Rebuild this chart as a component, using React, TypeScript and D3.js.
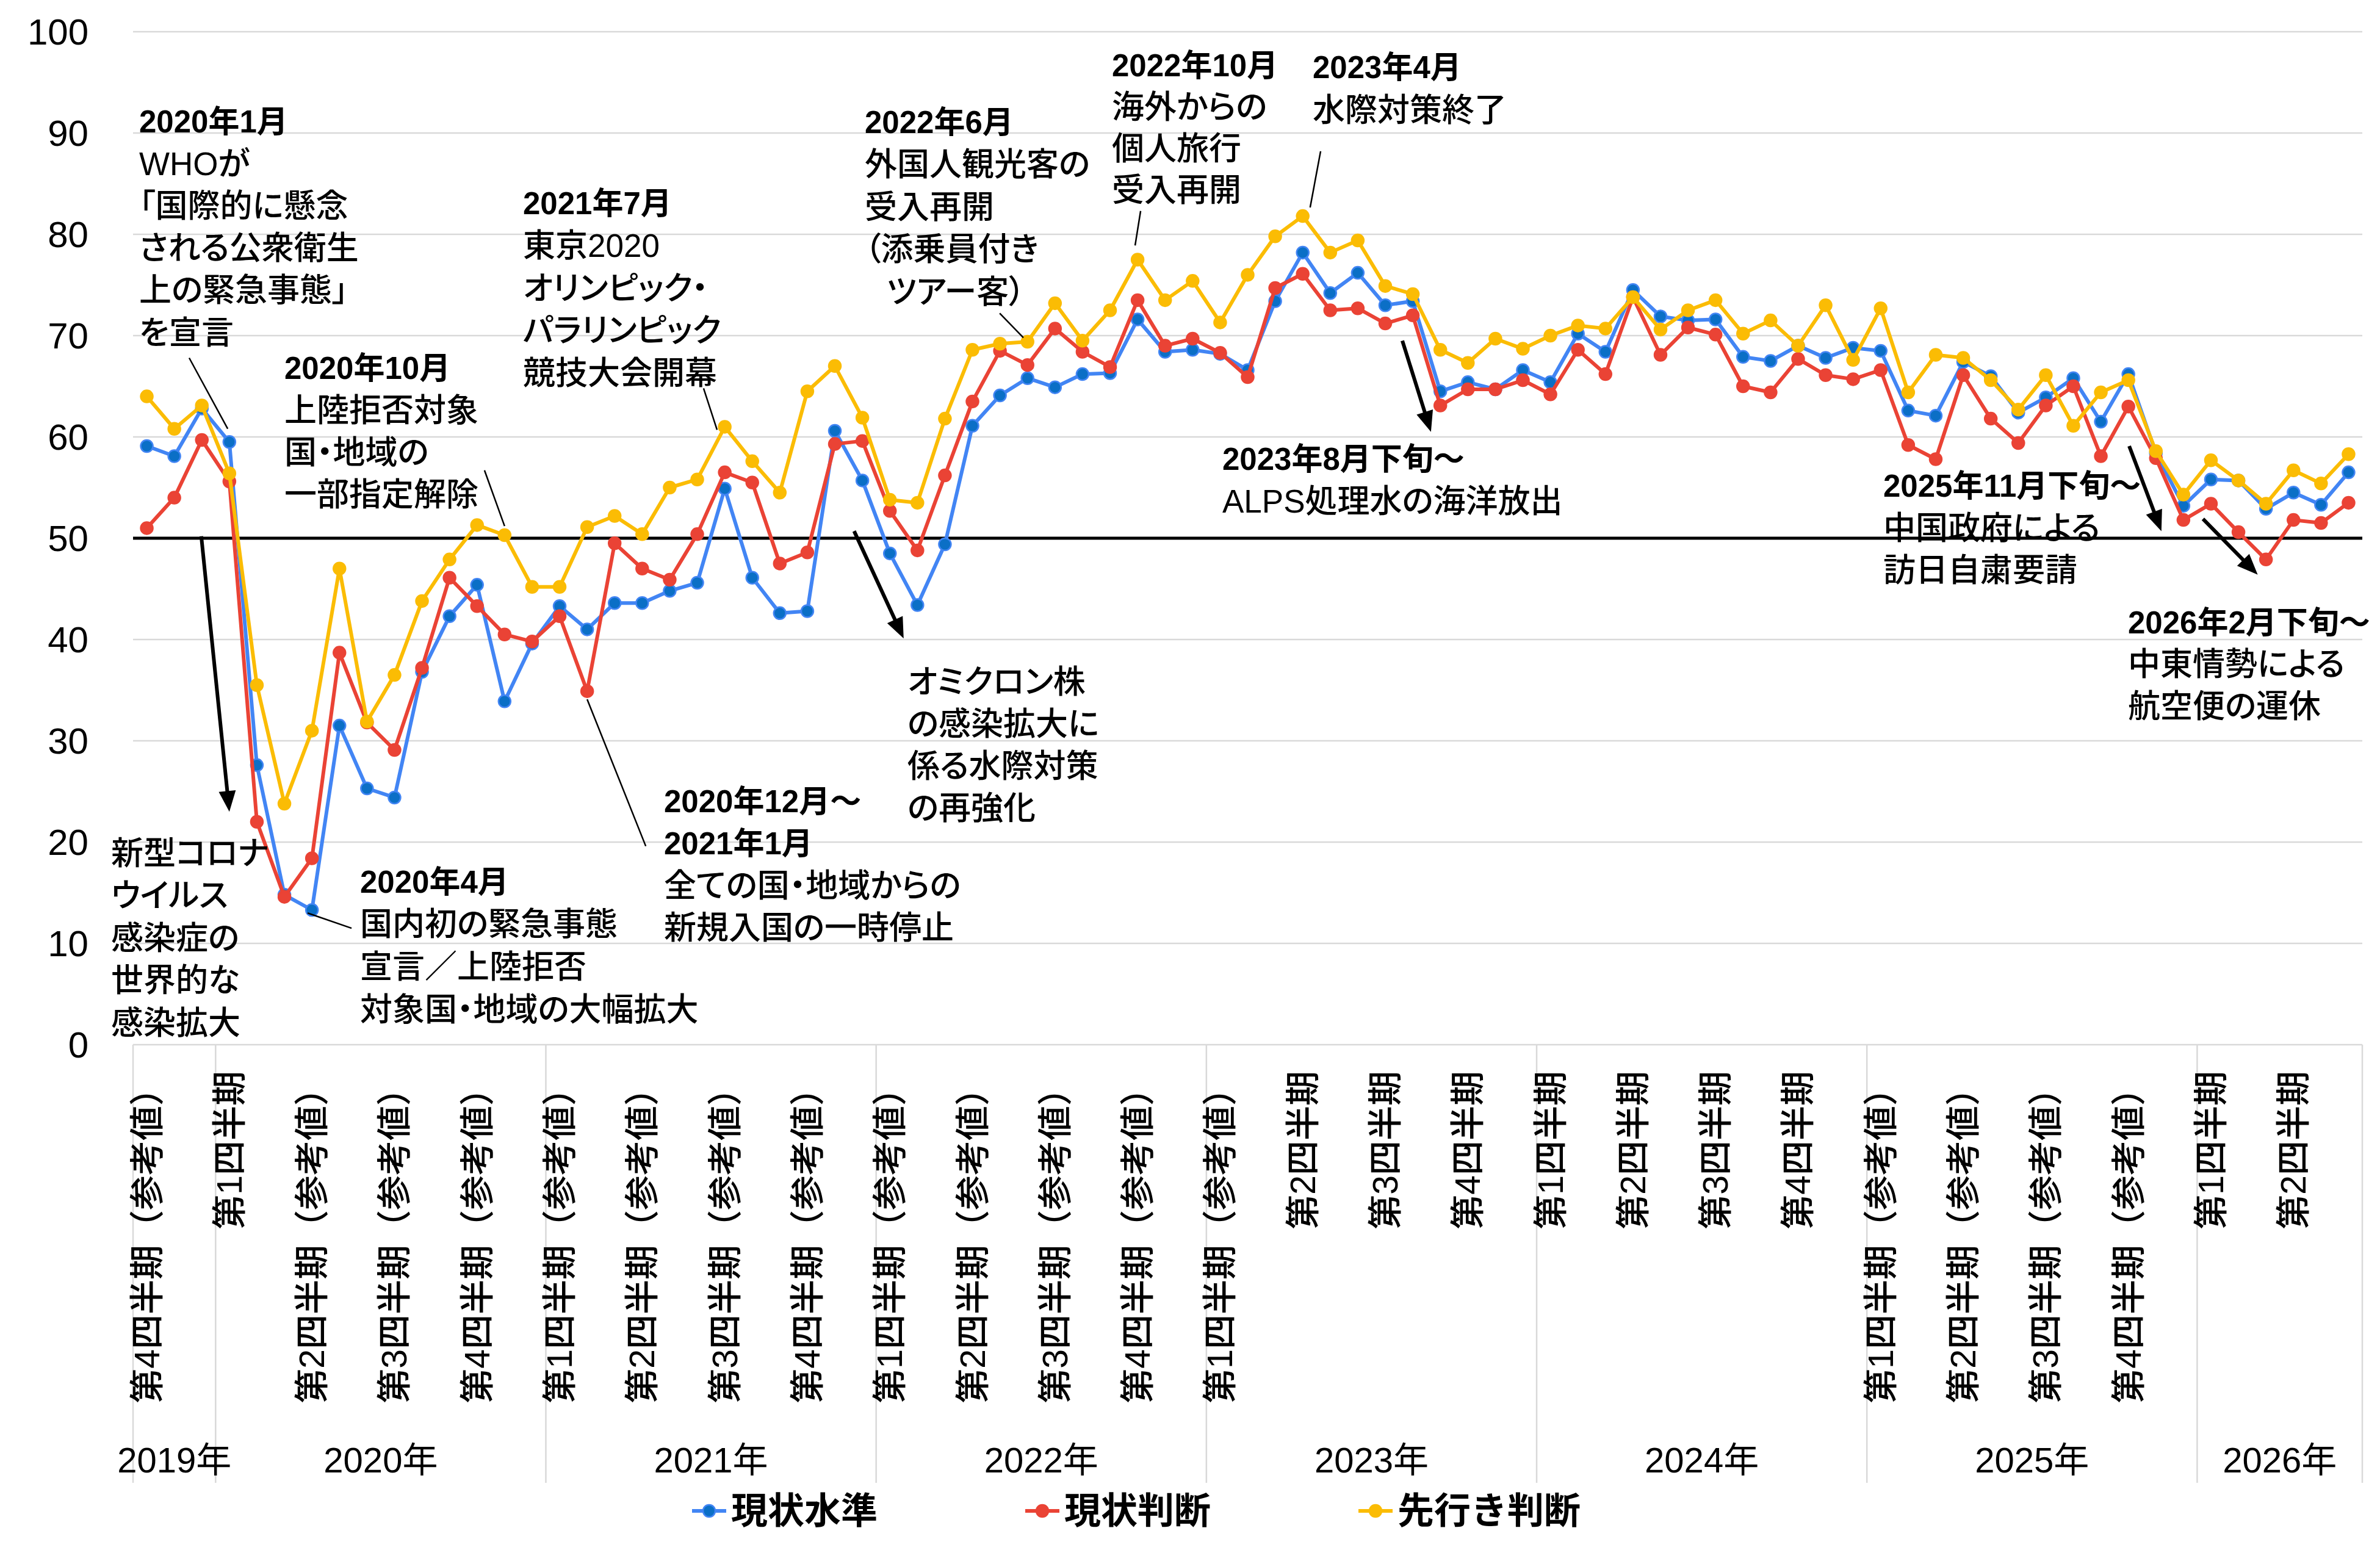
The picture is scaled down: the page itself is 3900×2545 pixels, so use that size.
import React from "react";
import * as d3 from "d3";

const W = 3900;
const H = 2545;
const FONT = "'Liberation Sans', 'Noto Sans CJK JP', sans-serif";

// ---- data ----
const seriesNames = ["現状水準", "現状判断", "先行き判断"];

const currentLevel = [
  59.1, 58.1, 62.8, 59.5, 27.6, 14.8, 13.3, 31.5, 25.3, 24.4,
  36.8, 42.3, 45.4, 33.9, 39.6, 43.3, 41.0, 43.6, 43.6, 44.8,
  45.6, 54.9, 46.1, 42.6, 42.8, 60.6, 55.7, 48.5, 43.4, 49.4,
  61.1, 64.1, 65.8, 64.9, 66.2, 66.3, 71.6, 68.4, 68.6, 68.2,
  66.6, 73.4, 78.2, 74.2, 76.2, 73.0, 73.4, 64.5, 65.4, 64.7,
  66.6, 65.4, 70.2, 68.4, 74.5, 71.9, 71.5, 71.6, 67.9, 67.5,
  69.0, 67.8, 68.8, 68.5, 62.6, 62.1, 67.4, 66.0, 62.4, 63.9,
  65.8, 61.5, 66.2, 58.4, 53.2, 55.8, 55.7, 52.9, 54.5, 53.3,
  56.5,
];

const currentJudgment = [
  51.0, 54.0, 59.7, 55.6, 22.0, 14.6, 18.4, 38.7, 31.8, 29.1,
  37.2, 46.1, 43.3, 40.5, 39.8, 42.3, 34.9, 49.5, 47.0, 45.9,
  50.4, 56.5, 55.5, 47.5, 48.6, 59.3, 59.6, 52.7, 48.8, 56.2,
  63.5, 68.5, 67.1, 70.7, 68.4, 66.9, 73.5, 69.0, 69.7, 68.3,
  65.9, 74.7, 76.1, 72.5, 72.7, 71.2, 72.0, 63.1, 64.7, 64.7,
  65.6, 64.2, 68.6, 66.2, 73.8, 68.1, 70.8, 70.1, 65.0, 64.4,
  67.7, 66.1, 65.7, 66.6, 59.2, 57.8, 66.1, 61.8, 59.4, 63.1,
  65.0, 58.1, 63.0, 57.9, 51.8, 53.4, 50.6, 47.9, 51.8, 51.5,
  53.5,
];

const outlook = [
  64.0, 60.8, 63.1, 56.4, 35.5, 23.8, 31.0, 47.0, 31.9, 36.5,
  43.8, 47.9, 51.3, 50.3, 45.2, 45.2, 51.1, 52.2, 50.4, 55.0,
  55.8, 61.0, 57.6, 54.5, 64.5, 67.0, 61.9, 53.8, 53.5, 61.8,
  68.6, 69.2, 69.4, 73.2, 69.5, 72.5, 77.5, 73.5, 75.4, 71.3,
  76.0, 79.8, 81.8, 78.2, 79.4, 74.9, 74.1, 68.6, 67.3, 69.7,
  68.7, 70.0, 71.0, 70.7, 73.8, 70.6, 72.5, 73.5, 70.2, 71.5,
  69.0, 73.0, 67.6, 72.7, 64.4, 68.1, 67.8, 65.6, 62.7, 66.1,
  61.1, 64.4, 65.6, 58.6, 54.3, 57.7, 55.7, 53.4, 56.7, 55.4,
  58.3,
];

const yearLabels = ["2019年", "2020年", "2021年", "2022年", "2023年", "2024年", "2025年", "2026年"];
const quartersPerYear = [1, 4, 4, 4, 4, 4, 4, 2];
const quarterLabels = [
  "第4四半期（参考値）",
  "第1四半期", "第2四半期（参考値）", "第3四半期（参考値）", "第4四半期（参考値）",
  "第1四半期（参考値）", "第2四半期（参考値）", "第3四半期（参考値）", "第4四半期（参考値）",
  "第1四半期（参考値）", "第2四半期（参考値）", "第3四半期（参考値）", "第4四半期（参考値）",
  "第1四半期（参考値）", "第2四半期", "第3四半期", "第4四半期",
  "第1四半期", "第2四半期", "第3四半期", "第4四半期",
  "第1四半期（参考値）", "第2四半期（参考値）", "第3四半期（参考値）", "第4四半期（参考値）",
  "第1四半期", "第2四半期",
];

// month categories (Oct 2019 onwards), one per data point
const months = currentLevel.map((_, i) => {
  const m = 9 + i;
  return `${2019 + Math.floor(m / 12)}-${(m % 12) + 1}`;
});

// ---- styles ----
const styles = [
  { line: "#4285F4", fill: "#0B6FC6", stroke: "#4285F4" },
  { line: "#EA4335", fill: "#EA4335", stroke: "#EA4335" },
  { line: "#FBBC04", fill: "#FBBC04", stroke: "#FBBC04" },
];
const seriesData = [currentLevel, currentJudgment, outlook];

// ---- annotations (layout) ----
type Line = { t: string; b?: boolean; dx?: number };
const textBlocks: { x: number; y: number; lh: number; lines: Line[] }[] = [
  { x: 228, y: 199, lh: 69.2, lines: [{ t: "2020年1月", b: true }, { t: "WHOが" }, { t: "「国際的に懸念" }, { t: "される公衆衛生" }, { t: "上の緊急事態」" }, { t: "を宣言" }] },
  { x: 466, y: 603, lh: 69, lines: [{ t: "2020年10月", b: true }, { t: "上陸拒否対象" }, { t: "国・地域の" }, { t: "一部指定解除" }] },
  { x: 857, y: 333, lh: 69.5, lines: [{ t: "2021年7月", b: true }, { t: "東京2020" }, { t: "オリンピック・" }, { t: "パラリンピック" }, { t: "競技大会開幕" }] },
  { x: 1088, y: 1313, lh: 69, lines: [{ t: "2020年12月～", b: true }, { t: "2021年1月", b: true }, { t: "全ての国・地域からの" }, { t: "新規入国の一時停止" }] },
  { x: 590, y: 1445, lh: 69.7, lines: [{ t: "2020年4月", b: true }, { t: "国内初の緊急事態" }, { t: "宣言／上陸拒否" }, { t: "対象国・地域の大幅拡大" }] },
  { x: 182, y: 1398, lh: 69.5, lines: [{ t: "新型コロナ" }, { t: "ウイルス" }, { t: "感染症の" }, { t: "世界的な" }, { t: "感染拡大" }] },
  { x: 1417, y: 200, lh: 69.5, lines: [{ t: "2022年6月", b: true }, { t: "外国人観光客の" }, { t: "受入再開" }, { t: "（添乗員付き" }, { t: "ツアー客）", dx: 36 }] },
  { x: 1822, y: 107, lh: 68.3, lines: [{ t: "2022年10月", b: true }, { t: "海外からの" }, { t: "個人旅行" }, { t: "受入再開" }] },
  { x: 2151, y: 110, lh: 70, lines: [{ t: "2023年4月", b: true }, { t: "水際対策終了" }] },
  { x: 2003, y: 752, lh: 69, lines: [{ t: "2023年8月下旬～", b: true }, { t: "ALPS処理水の海洋放出" }] },
  { x: 3086, y: 796, lh: 69, lines: [{ t: "2025年11月下旬～", b: true }, { t: "中国政府による" }, { t: "訪日自粛要請" }] },
  { x: 3487, y: 1020, lh: 68.5, lines: [{ t: "2026年2月下旬～", b: true }, { t: "中東情勢による" }, { t: "航空便の運休" }] },
  { x: 1487, y: 1117, lh: 69.3, lines: [{ t: "オミクロン株" }, { t: "の感染拡大に" }, { t: "係る水際対策" }, { t: "の再強化" }] },
];

// leader lines and arrows in chart coordinates: [monthIndex, value] -> [monthIndex, value]
const leaders: [number, number, number, number][] = [
  [1.54, 67.8, 2.94, 60.8],
  [12.27, 56.7, 13.0, 51.2],
  [20.23, 64.8, 20.72, 60.7],
  [16.0, 34.1, 18.13, 19.6],
  [5.84, 13.0, 7.44, 11.5],
  [30.99, 72.2, 31.85, 69.8],
  [36.11, 82.3, 35.91, 78.9],
  [42.65, 88.2, 42.27, 82.65],
];
const arrows: [number, number, number, number][] = [
  [1.98, 50.2, 3.0, 23.0],
  [25.7, 50.7, 27.5, 40.1],
  [45.62, 69.5, 46.66, 60.5],
  [72.03, 59.1, 73.2, 50.7],
  [74.71, 51.9, 76.7, 46.4],
];

export default function App() {
  const left = 218;
  const right = 3871;
  const top = 52;
  const bottom = 1712;

  const x = d3.scaleBand<string>().domain(months).range([left, right]).padding(0);
  const bw = x.bandwidth();
  const cx = (i: number) => (x(months[i]) as number) + bw / 2;
  const fx = (f: number) => left + bw * (f + 0.5);
  const y = d3.scaleLinear().domain([0, 100]).range([bottom, top]);

  const line = d3
    .line<number>()
    .x((_, i) => cx(i))
    .y((d) => y(d));

  const ticks = d3.range(0, 101, 10);

  // year group boundaries
  const groupStarts: number[] = [];
  let acc = 0;
  quartersPerYear.forEach((q) => {
    groupStarts.push(acc);
    acc += q * 3;
  });
  const sepXs = [...groupStarts.map((s) => x(months[s]) as number), right];

  const axisBottom = 2430;

  const legendX = [1162, 1708, 2254];
  const legendY = 2476;
  const palt = { fontFeatureSettings: '"palt"' } as React.CSSProperties;

  return (
    <div style={{ position: "absolute", left: 0, top: 0 }}>
      <svg width={W} height={H} viewBox={`0 0 ${W} ${H}`} style={{ display: "block", background: "#fff" }} fontFamily={FONT}>
        <rect x={0} y={0} width={W} height={H} fill="#fff" />
        {/* gridlines */}
        {ticks.map((t) => (
          <line key={t} x1={left} x2={right} y1={y(t)} y2={y(t)} stroke="#d9d9d9" strokeWidth={2.5} />
        ))}
        {/* y tick labels */}
        {ticks.map((t) => (
          <text key={"l" + t} x={145} y={y(t)} textAnchor="end" dominantBaseline="central" fontSize={60} fill="#000">
            {t}
          </text>
        ))}
        {/* separators */}
        {sepXs.map((sx, i) => (
          <line key={"s" + i} x1={sx} x2={sx} y1={bottom} y2={axisBottom} stroke="#d9d9d9" strokeWidth={2.5} />
        ))}
        {/* 50 line */}
        <line x1={left} x2={right} y1={y(50)} y2={y(50)} stroke="#000" strokeWidth={5} />

        {/* quarter labels */}
        {quarterLabels.map((q, k) => (
          <text
            key={"q" + k}
            transform={`translate(${cx(k * 3)},1755) rotate(-90)`}
            textAnchor="end"
            dominantBaseline="central"
            fontSize={57}
            fontWeight={500}
            fill="#000"
          >
            {q}
          </text>
        ))}
        {/* year labels */}
        {yearLabels.map((yl, g) => {
          const s = groupStarts[g];
          const e = s + quartersPerYear[g] * 3;
          const xs = x(months[s]) as number;
          const xe = e < months.length ? (x(months[e]) as number) : right;
          return (
            <text key={"y" + g} x={(xs + xe) / 2} y={2392} textAnchor="middle" dominantBaseline="central" fontSize={58} fill="#000">
              {yl}
            </text>
          );
        })}

        {/* series */}
        {seriesData.map((data, si) => (
          <g key={"ser" + si}>
            <path d={line(data) || ""} fill="none" stroke={styles[si].line} strokeWidth={6} strokeLinejoin="round" />
            {data.map((v, i) => (
              <circle key={i} cx={cx(i)} cy={y(v)} r={10} fill={styles[si].fill} stroke={styles[si].stroke} strokeWidth={2.5} />
            ))}
          </g>
        ))}

        {/* leader lines */}
        {leaders.map(([a, b, c, d], i) => (
          <line key={"ld" + i} x1={fx(a)} y1={y(b)} x2={fx(c)} y2={y(d)} stroke="#000" strokeWidth={2.5} />
        ))}
        {/* arrows */}
        {arrows.map(([a, b, c, d], i) => {
          const x1 = fx(a), y1 = y(b), x2 = fx(c), y2 = y(d);
          const len = Math.hypot(x2 - x1, y2 - y1);
          const ux = (x2 - x1) / len, uy = (y2 - y1) / len;
          const hl = 34, hw = 14;
          const bx = x2 - ux * hl, by = y2 - uy * hl;
          const px = -uy, py = ux;
          return (
            <g key={"ar" + i}>
              <line x1={x1} y1={y1} x2={bx + ux * 4} y2={by + uy * 4} stroke="#000" strokeWidth={6} />
              <polygon points={`${x2},${y2} ${bx + px * hw},${by + py * hw} ${bx - px * hw},${by - py * hw}`} fill="#000" />
            </g>
          );
        })}

        {/* annotation texts */}
        {textBlocks.map((blk, bi) => (
          <g key={"tb" + bi}>
            {blk.lines.map((ln, li) => (
              <text
                key={li}
                x={blk.x + (ln.dx || 0)}
                y={blk.y + li * blk.lh}
                dominantBaseline="central"
                fontSize={ln.b ? 51 : 53}
                fontWeight={ln.b ? 700 : 500}
                fill="#000"
                style={ln.b ? undefined : palt}
              >
                {ln.t}
              </text>
            ))}
          </g>
        ))}

        {/* legend */}
        {seriesNames.map((n, i) => (
          <g key={"lg" + i}>
            <line x1={legendX[i] - 28} x2={legendX[i] + 28} y1={legendY} y2={legendY} stroke={styles[i].line} strokeWidth={6} />
            <circle cx={legendX[i]} cy={legendY} r={10} fill={styles[i].fill} stroke={styles[i].stroke} strokeWidth={2.5} />
            <text x={legendX[i] + 36} y={legendY} dominantBaseline="central" fontSize={60} fontWeight={700} fill="#000">
              {n}
            </text>
          </g>
        ))}
      </svg>
    </div>
  );
}
